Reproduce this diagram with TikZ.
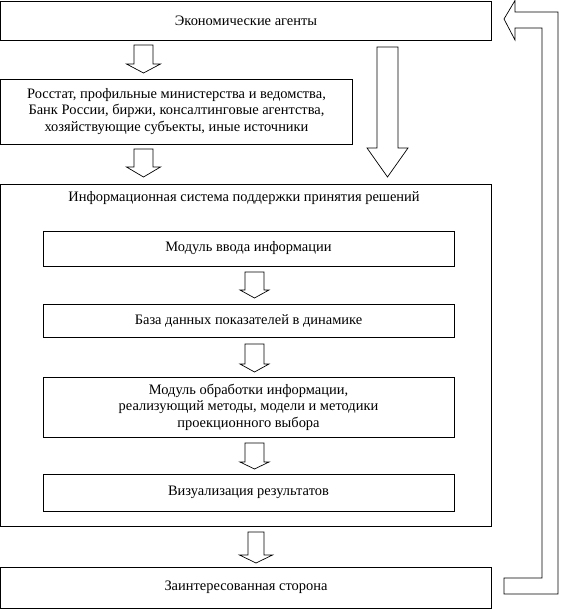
\documentclass[tikz,border=0pt]{standalone}
\usepackage{fontspec}
\setmainfont{Liberation Serif}
\newcommand\blockdown[6]{%
  \draw[barrow] (#1-#5,#2) -- (#1+#5,#2) -- (#1+#5,#3) -- (#1+#6,#3) -- (#1,#4) -- (#1-#6,#3) -- (#1-#5,#3) -- cycle;}
\begin{document}
\begin{tikzpicture}[x=1bp,y=-1bp,
  box/.style={draw, line width=0.8bp, inner sep=0pt, align=center, font=\fontsize{14.5}{16.5}\selectfont},
  lbl/.style={inner sep=0pt, align=center, font=\fontsize{14.5}{16.5}\selectfont},
  barrow/.style={draw, line width=0.7bp, fill=white, line join=miter}]
\useasboundingbox (0,0) rectangle (561,611);
% outer boxes
\node[box, minimum width=491bp, minimum height=39bp] (agents) at (246,20.5) {Экономические агенты};
\node[box, minimum width=352bp, minimum height=65bp] (sources) at (176.5,111.5)
  {Росстат, профильные министерства и ведомства,\\Банк России, биржи, консалтинговые агентства,\\хозяйствующие субъекты, иные источники};
\node[box, minimum width=491bp, minimum height=342bp] (isys) at (246,355) {};
\node[lbl] (isystitle) at (244,198) {Информационная система поддержки принятия решений};
% inner boxes
\node[box, minimum width=411bp, minimum height=35bp] (input) at (248.5,248.5) {Модуль ввода информации};
\node[box, minimum width=411bp, minimum height=33bp] (db) at (248.5,320.5) {База данных показателей в динамике};
\node[box, minimum width=411bp, minimum height=60bp] (proc) at (248.5,407)
  {Модуль обработки информации,\\реализующий методы, модели и методики\\проекционного выбора};
\node[box, minimum width=411bp, minimum height=37bp] (vis) at (248.5,492.5) {Визуализация результатов};
\node[box, minimum width=491bp, minimum height=41bp] (party) at (246,587.5) {Заинтересованная сторона};
% block arrows
\blockdown{143.5}{45}{64}{73}{9.5}{17}
\blockdown{143.5}{149}{167}{177}{9.5}{17}
\blockdown{387.5}{47}{148}{177}{10.5}{20.5}
\blockdown{254.5}{272}{290}{298}{9.5}{14.5}
\blockdown{254.5}{344}{364}{372}{9.5}{14.5}
\blockdown{254.5}{443}{462}{469}{9.5}{14.5}
\blockdown{256}{532}{555}{563}{8}{16.5}
% feedback loop arrow
\draw[barrow] (504,19) -- (515,0.5) -- (515,12) -- (558,12) -- (558,594) -- (504,594)
  -- (504,578) -- (542,578) -- (542,28) -- (515,28) -- (515,40) -- cycle;
\end{tikzpicture}
\end{document}
